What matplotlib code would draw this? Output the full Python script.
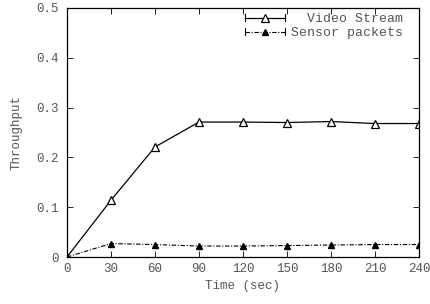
import matplotlib
matplotlib.use("Agg")
import matplotlib.pyplot as plt
from matplotlib.legend_handler import HandlerLine2D
from matplotlib.lines import Line2D

time_sec = [0, 30, 60, 90, 120, 150, 180, 210, 240]
video_stream = [0, 0.114, 0.221, 0.271, 0.271, 0.270, 0.272, 0.268, 0.268]
sensor_packets = [0, 0.027, 0.025, 0.022, 0.022, 0.023, 0.024, 0.025, 0.025]
xticks = [0, 30, 60, 90, 120, 150, 180, 210, 240]
yticks = [0, 0.1, 0.2, 0.3, 0.4, 0.5]
ytick_labels = ["0", "0.1", "0.2", "0.3", "0.4", "0.5"]

plt.rcParams['font.family'] = ['Liberation Mono', 'DejaVu Sans Mono']
plt.rcParams['font.size'] = 9
txt = '#555555'


class CapHandler(HandlerLine2D):
    "line sample with gnuplot-like end caps"
    def create_artists(self, legend, orig, xd, yd, w, h, fontsize, trans):
        arts = super().create_artists(legend, orig, xd, yd, w, h, fontsize, trans)
        y = h / 2 - yd
        for x in (-xd, -xd + w):
            cap = Line2D([x, x], [y - 2.5, y + 2.5], color='black', lw=0.8)
            cap.set_transform(trans)
            arts.append(cap)
        return arts


fig = plt.figure(figsize=(4.31, 3.04), dpi=100)
ax = fig.add_axes([67 / 431, 47 / 304, 352 / 431, 249 / 304])

ax.plot(time_sec, video_stream, color='black', lw=0.9, marker='^', ms=6,
        mfc='white', mec='black', mew=0.9, label='  Video Stream')
ax.plot(time_sec, sensor_packets, color='black', lw=0.8, ls=(0, (4, 1.5, 1, 1.5)),
        marker='^', ms=5, mfc='black', mec='black', label='Sensor packets')

ax.set_xlim(0, 240)
ax.set_ylim(0, 0.5)
ax.set_xticks(xticks)
ax.set_yticks(yticks)
ax.set_yticklabels(ytick_labels)
ax.tick_params(direction='in', top=True, right=True, length=4, width=0.6,
               colors='black', labelcolor=txt)
ax.tick_params(axis='y', pad=6)
ax.tick_params(axis='x', pad=4)
for s in ax.spines.values():
    s.set_linewidth(0.9)

ax.set_xlabel('Time (sec)', color=txt, labelpad=4)
ax.set_ylabel('Throughput', color=txt, labelpad=10)

leg = ax.legend(loc='upper right', bbox_to_anchor=(0.955, 0.98), frameon=False,
                fontsize=9.5, handlelength=3.0, handletextpad=0.5,
                labelspacing=0.15, borderaxespad=0, borderpad=0,
                handler_map={Line2D: CapHandler()})
for t in leg.get_texts():
    t.set_color(txt)

fig.savefig('out.png', dpi=100)
